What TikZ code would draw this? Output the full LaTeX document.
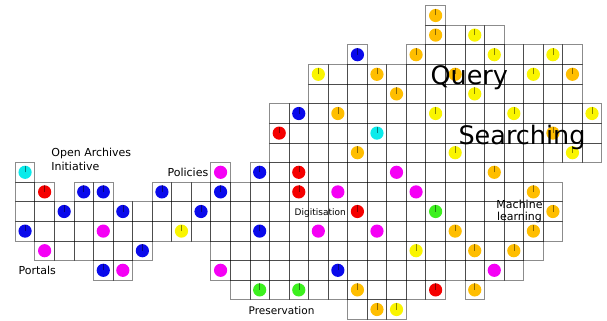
\documentclass[tikz,border=0pt]{standalone}
\usepackage{fontspec}
\setmainfont{DejaVu Sans}
\definecolor{dotblue}{RGB}{10,10,235}
\definecolor{dotred}{RGB}{245,0,0}
\definecolor{dotmag}{RGB}{245,0,245}
\definecolor{dotcyan}{RGB}{10,235,235}
\definecolor{dotgreen}{RGB}{60,240,30}
\definecolor{dotyellow}{RGB}{250,245,0}
\definecolor{dotorange}{RGB}{255,190,0}

\begin{document}
\begin{tikzpicture}[x=19.55pt,y=-19.6pt,
    cell/.style={draw=black,draw opacity=0.45,line width=0.8pt},
    tick/.style={black,opacity=0.45,line width=0.5pt},
    tag/.style={inner sep=0pt,font=\fontsize{11}{14}\selectfont},
    big/.style={inner sep=0pt,anchor=base west,font=\fontsize{25.5}{30}\selectfont}]
  \useasboundingbox (-0.7826,-0.2908) rectangle (30.266,16.036);
  \foreach \r/\cols in {0/{21},1/{21,...,24},2/{17,20,21,...,28},3/{15,...,28},4/{15,...,28},5/{13,...,29},6/{13,...,29},7/{13,...,29},8/{0,10,12,13,...,26},9/{0,1,3,4,7,8,...,27},10/{0,...,27},11/{0,...,27},12/{1,...,6,10,11,...,26},13/{4,5,10,11,...,25},14/{11,...,21,23},15/{17,18,19}}
    \foreach \c in \cols \draw[cell] (\c,\r) rectangle ++(1,1);
  \foreach \c/\r/\col in {21/0/dotorange,21/1/dotorange,23/1/dotyellow,
      17/2/dotblue,20/2/dotorange,24/2/dotyellow,27/2/dotyellow,
      15/3/dotyellow,18/3/dotorange,22/3/dotorange,26/3/dotyellow,28/3/dotorange,
      19/4/dotorange,23/4/dotyellow,
      14/5/dotblue,16/5/dotorange,21/5/dotyellow,25/5/dotyellow,29/5/dotyellow,
      13/6/dotred,18/6/dotcyan,27/6/dotorange,
      17/7/dotorange,22/7/dotyellow,28/7/dotyellow,
      0/8/dotcyan,12/8/dotblue,14/8/dotred,24/8/dotorange,
      1/9/dotred,3/9/dotblue,4/9/dotblue,7/9/dotblue,10/9/dotblue,14/9/dotred,26/9/dotorange,
      2/10/dotblue,5/10/dotblue,9/10/dotblue,17/10/dotred,21/10/dotgreen,27/10/dotorange,
      0/11/dotblue,8/11/dotyellow,12/11/dotblue,22/11/dotorange,26/11/dotorange,
      6/12/dotblue,20/12/dotyellow,23/12/dotorange,25/12/dotorange,
      4/13/dotblue,16/13/dotblue,
      12/14/dotgreen,14/14/dotgreen,17/14/dotorange,21/14/dotred,23/14/dotorange,
      18/15/dotorange,19/15/dotyellow} {
    \fill[\col] (\c+.5,\r+.5) circle[radius=6.6pt];
    \draw[tick] (\c+.5,\r+.5) -- ++(0,-.33);
  }
  \foreach \c/\r in {10/8,19/8,16/9,20/9,4/11,15/11,18/11,1/12,5/13,10/13,24/13}
    \fill[dotmag] (\c+.5,\r+.5) circle[radius=6.6pt];
  \node[tag,anchor=west,align=left] (oai) at (1.836,7.82) {Open Archives\\Initiative};
  \node[tag,anchor=east] (policies) at (9.88,8.5) {Policies};
  \node[tag,anchor=west] (portals) at (0.16,13.5) {Portals};
  \node[tag,font=\fontsize{9}{11}\selectfont] (digitisation) at (15.6,10.6) {Digitisation};
  \node[tag,align=center,font=\fontsize{11}{12.5}\selectfont] (machine) at (25.79,10.5) {Machine\\learning};
  \node[tag,font=\fontsize{10.5}{12}\selectfont] (preservation) at (13.62,15.56) {Preservation};
  \node[big] (query) at (21.23,4.0) {Query};
  \node[big] (searching) at (22.66,7.1) {Searching};
\end{tikzpicture}
\end{document}
